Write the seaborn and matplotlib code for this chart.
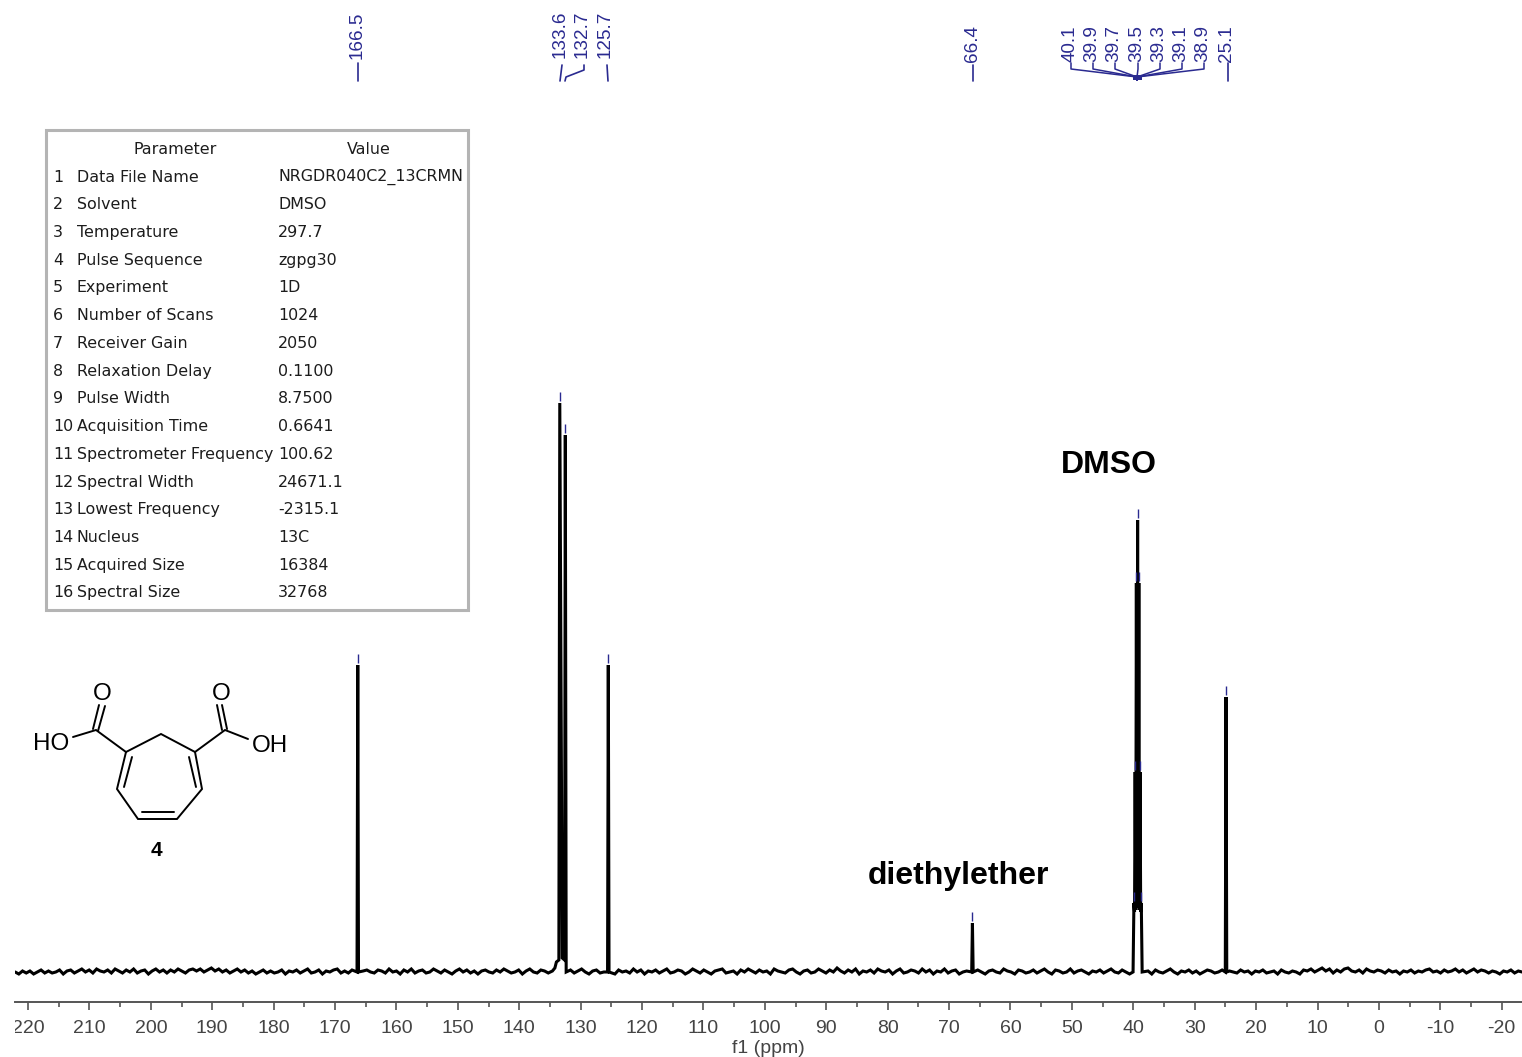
import numpy as np
import pandas as pd
import matplotlib
matplotlib.use("Agg")
import matplotlib.pyplot as plt
import seaborn as sb
from matplotlib.patches import Rectangle
from matplotlib.ticker import MultipleLocator
from matplotlib.transforms import Bbox

# peaks of the 13C spectrum, ppm as placed in the picture, height = pixels over the baseline
peak_ppm = [166.3, 133.4, 132.5, 125.5, 66.2, 39.9, 39.7, 39.5, 39.3, 39.1, 38.9, 38.7, 24.9]
peak_height = [307, 569, 537, 307, 49, 69, 200, 389, 452, 389, 200, 69, 275]
peak_labels = ["166.5", "133.6", "132.7", "125.7", "66.4", "40.1", "39.9", "39.7", "39.5", "39.3", "39.1", "38.9", "25.1"]

# feet and valleys between the lines
foot_ppm = [166.42, 166.18, 134.6, 134.2, 133.95, 133.55, 133.0, 132.62, 132.36, 125.62, 125.38,
            66.32, 66.08, 40.04, 39.8, 39.6, 39.4, 39.2, 39.0, 38.8, 38.56, 25.02, 24.78]
foot_height = [0, 0, 1, 4, 10, 12, 14, 12, 0, 0, 0,
               0, 0, 0, 60, 62, 64, 64, 62, 60, 0, 0, 0]

# baseline, left to right
baseline = [
    0, -2, 1, -1, 1, -2, 0, 2, -1, 1, -1, 0, 2, -2, 1, 2, -1, 1, 3, 0, 2, -1, 3, 1, 0,
    2, -1, 3, 1, -1, 2, 0, 3, -1, 1, 2, -2, 1, 3, 0, 2, -1, 2, 0, 3, 1, -1, 2, 3, 1,
    3, 0, 2, 4, 1, 3, 0, 2, -1, 1, 3, 0, 2, -1, 1, -2, 0, 2, -1, 1, -1, 0, 2, -2, 1,
    0, 2, -1, 1, 3, -1, 0, 2, -2, 1, 0, 2, 3, -1, 1, -1, 2, 0, -2, 1, 2, 0, -1, 2, 1,
    -1, 3, 0, 1, -2, 2, 0, 3, -1, 1, 2, -1, 0, 3, 1, -1, 2, 0, -2, 1, 3, 0, 2, -1, 1,
    -2, 1, 2, 0, -1, 2, 0, 3, 1, -1, 0, 2, -2, 1, 3, 0, -1, 2, 1, -1, 3, 0, -2, 1, 0,
    2, -1, 1, 3, 0, -2, 1, 2, -1, 0, 3, 1, -2, 2, 0, 1, -1, 3, 0, 2, -2, 1, 0, 2, -1,
    1, 3, -1, 0, 2, 1, -2, 0, 3, 1, -1, 2, 0, -2, 1, 2, 3, -1, 0, 1, -2, 2, 0, 3, 1,
    -1, 2, 0, 1, -2, 3, 1, 0, -1, 2, 3, 0, -2, 1, 2, -1, 0, 3, 1, -1, 2, 0, 4, 1, -1,
    2, 0, 3, -2, 1, 0, 2, -1, 3, 1, 0, 2, -2, 1, 3, -1, 0, 2, 1, -1, 3, 0, 2, -2, 1,
    0, 3, -1, 1, 2, -2, 0, 1, 3, -1, 2, 0, -2, 1, 2, 0, -1, 3, 1, 0, -2, 2, 1, -1, 0,
    2, -1, 1, 3, 0, -2, 2, 1, -1, 0, 3, -1, 1, 2, 0, -2, 1, 0, 2, -1, 1, 3, 0, -1, 2,
    0, -2, 1, 2, -1, 0, 1, -2, 2, 0, -1, 1, 3, 0, -2, 1, 0, 2, -1, 1, -2, 0, 2, 1, -1,
    0, 2, -2, 1, 0, -1, 2, 0, 1, -2, 1, 0, 2, -1, 0, 1, -2, 2, 0, -1, 1, 0, -2, 2, 1,
    3, 0, 2, 4, 1, 3, -1, 2, 0, 3, 4, 1, 0, 2, -1, 3, 1, 0, 2, 1, -1, 2, 0, 1, -2,
    1, 0, 2, -1, 1, 0, 2, 3, 0, 1, -1, 2, 0, 1, 3, 0, 2, -1, 1, 3, 0, 2, 1, -1, 1,
    0, -2, 1, 0, 2, -1, 1, 0,
]
bump_limits = (133.0, 135.0)

table_params = ["Data File Name", "Solvent", "Temperature", "Pulse Sequence", "Experiment",
                "Number of Scans", "Receiver Gain", "Relaxation Delay", "Pulse Width",
                "Acquisition Time", "Spectrometer Frequency", "Spectral Width",
                "Lowest Frequency", "Nucleus", "Acquired Size", "Spectral Size"]
table_values = ["NRGDR040C2_13CRMN", "DMSO", "297.7", "zgpg30", "1D", "1024", "2050", "0.1100",
                "8.7500", "0.6641", "100.62", "24671.1", "-2315.1", "13C", "16384", "32768"]

BLUE = "#2a2a90"
GREY = "#555555"
TEXT = "#1c1c1c"

sb.set_theme(style="ticks")
plt.rcParams["font.family"] = ["Liberation Sans", "DejaVu Sans"]
plt.rcParams["axes.unicode_minus"] = False

# spectrum points
base_ppm = np.linspace(222.1, -23.3, len(baseline))
keep = [not any(abs(p - q) < 0.5 for q in peak_ppm) and not bump_limits[0] < p < bump_limits[1] for p in base_ppm]
df = pd.concat([
    pd.DataFrame({"ppm": base_ppm[keep], "y": np.array(baseline)[keep]}),
    pd.DataFrame({"ppm": foot_ppm, "y": foot_height}),
    pd.DataFrame({"ppm": peak_ppm, "y": peak_height}),
]).sort_values("ppm", ascending=False)

fig = plt.figure(figsize=(15.22, 10.57), dpi=100)
ax = fig.add_axes([15 / 1522, 55 / 1057, 1507 / 1522, 1002 / 1057])
sb.lineplot(data=df, x="ppm", y="y", sort=False, estimator=None, color="black",
            linewidth=2.2, solid_joinstyle="miter", ax=ax)
ax.vlines(peak_ppm, np.array(peak_height) + 2, np.array(peak_height) + 11, color=BLUE, lw=1)

ax.set_xlim(222.12, -23.3)
ax.set_ylim(-30, 972)
ax.xaxis.set_major_locator(MultipleLocator(10))
ax.xaxis.set_minor_locator(MultipleLocator(5))
ax.tick_params(axis="x", which="major", length=6, width=1.2, color=GREY, labelcolor="#444444",
               labelsize=14, pad=7)
ax.tick_params(axis="x", which="minor", length=3.5, width=1.2, color=GREY)
ax.set_yticks([])
ax.set_xlabel("f1 (ppm)", fontsize=14, color="#444444", labelpad=2)
ax.set_ylabel("")
sb.despine(ax=ax, left=True)
ax.spines["bottom"].set_color(GREY)
ax.spines["bottom"].set_linewidth(1.4)
clip = Bbox([[15, 0], [1522, 1057]])
for lab in ax.get_xticklabels():
    lab.set_clip_on(True)
    lab.set_clip_box(clip)

# overlay in pixel coords for labels, table and the structure
ov = fig.add_axes([0, 0, 1, 1])
ov.set_xlim(0, 1522)
ov.set_ylim(1057, 0)
ov.axis("off")
ov.patch.set_alpha(0)

label_x = [357, 560, 582, 605, 972, 1070, 1092, 1114, 1137, 1159, 1181, 1203, 1227]
label_bottom = [59, 58, 58, 58, 62, 62, 62, 62, 62, 62, 62, 62, 62]
for txt, x, yb in zip(peak_labels, label_x, label_bottom):
    ov.text(x, yb, txt, rotation=90, ha="center", va="bottom", fontsize=13.6, color=BLUE)

ov.plot([358, 358], [63, 81], color=BLUE, lw=1.2)
ov.plot([562, 560], [65, 81], color=BLUE, lw=1.2)
ov.plot([584, 584, 566, 565], [65, 70, 77, 81], color=BLUE, lw=1.2)
ov.plot([607, 608], [65, 81], color=BLUE, lw=1.2)
ov.plot([973, 973], [65, 81], color=BLUE, lw=1.2)
ov.plot([1228, 1228], [63, 81], color=BLUE, lw=1.2)
for x in label_x[5:12]:
    lx = x + 1
    ov.plot([lx, lx, 1137, 1137], [63, 69, 77, 80], color=BLUE, lw=1.1)
ov.add_patch(Rectangle((1133, 75), 9, 5, color=BLUE, lw=0))

# parameter table
ov.add_patch(Rectangle((46, 130), 422, 480, fill=False, edgecolor="#b4b4b4", lw=2.2))
TABLE_FONT = "DejaVu Sans"
ov.text(175, 149, "Parameter", ha="center", va="center", fontsize=11.4, color=TEXT, family=TABLE_FONT)
ov.text(369, 149, "Value", ha="center", va="center", fontsize=11.4, color=TEXT, family=TABLE_FONT)
for i, (par, val) in enumerate(zip(table_params, table_values)):
    y = 177 + i * 27.73
    ov.text(53, y, str(i + 1), ha="left", va="center", fontsize=11.4, color=TEXT, family=TABLE_FONT)
    ov.text(77, y, par, ha="left", va="center", fontsize=11.4, color=TEXT, family=TABLE_FONT)
    ov.text(278, y, val, ha="left", va="center", fontsize=11.4, color=TEXT, family=TABLE_FONT)

# structure 4, bonds read in px
bonds = [
    [(126, 752), (161, 734), (195, 752), (202, 789), (177, 819), (138, 819), (117, 789), (126, 752)],
    [(132, 757), (124, 787)], [(189, 757), (196, 787)], [(142, 812), (174, 812)],
    [(126, 752), (96, 730), (73, 737)], [(195, 752), (225, 730), (248, 739)],
    [(93, 729), (99, 705)], [(98, 731), (105, 706)],
    [(222, 730), (217, 705)], [(227, 729), (222, 705)],
]
for b in bonds:
    xs, ys = zip(*b)
    ov.plot(xs, ys, color="black", lw=1.4, solid_joinstyle="miter")
ov.text(102, 694, "O", ha="center", va="center", fontsize=17.5, color="black")
ov.text(221, 694, "O", ha="center", va="center", fontsize=17.5, color="black")
ov.text(51, 744, "HO", ha="center", va="center", fontsize=17.5, color="black")
ov.text(270, 746, "OH", ha="center", va="center", fontsize=17.5, color="black")
ov.text(156, 851, "4", ha="center", va="center", fontsize=15, fontweight="bold", color="black")

ov.text(1109, 465, "DMSO", ha="center", va="center", fontsize=23, fontweight="bold", color="black")
ov.text(958, 876, "diethylether", ha="center", va="center", fontsize=23, fontweight="bold", color="black")

fig.savefig("out.png", dpi=100, facecolor="white")
